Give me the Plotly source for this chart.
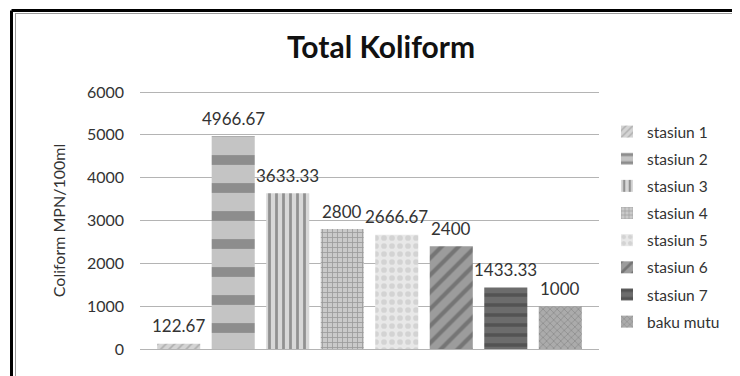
import plotly.graph_objects as go

series_names = ["stasiun 1", "stasiun 2", "stasiun 3", "stasiun 4",
                "stasiun 5", "stasiun 6", "stasiun 7", "baku mutu"]
values = [122.67, 4966.67, 3633.33, 2800, 2666.67, 2400, 1433.33, 1000]
value_labels = ["122.67", "4966.67", "3633.33", "2800", "2666.67", "2400", "1433.33", "1000"]
y_ticks = [0, 1000, 2000, 3000, 4000, 5000, 6000]

styles = [
    dict(color="#d4d4d4", shape="/", fg="#8a8a8a", size=6, sol=0.3),
    dict(color="#c4c4c4", shape="-", fg="#555555", size=28, sol=0.35),
    dict(color="#d8d8d8", shape="|", fg="#4a4a4a", size=7, sol=0.4),
    dict(color="#cacaca", shape="+", fg="#6a6a6a", size=5, sol=0.3),
    dict(color="#e8e8e8", shape=".", fg="#bdbdbd", size=8, sol=0.4),
    dict(color="#9c9c9c", shape="/", fg="#4d4d4d", size=12, sol=0.35),
    dict(color="#6c6c6c", shape="-", fg="#3a3a3a", size=10, sol=0.35),
    dict(color="#ababab", shape="x", fg="#727272", size=5, sol=0.3),
]

FONT = "Lato"
OFF = 8  # page body margin offset
W, H = 740, 376
# targets in page pixels -> figure pixels
PL, PR, PT, PB = 140, 599, 90, 351
Y0_PX, Y6000_PX = 349, 92
upx = (Y0_PX - Y6000_PX) / 6000.0
y_lo = -(PB - Y0_PX) / upx
y_hi = 6000 + (Y6000_PX - PT) / upx

L = PL - OFF
T = PT - OFF
R = W - (PR - OFF)
B = H - (PB - OFF)
pw, ph = W - L - R, H - T - B


def px_x(p):
    return (p - OFF - L) / pw


def px_y(p):
    return (H - B - (p - OFF)) / ph


fig = go.Figure()
for i, (name, v, st) in enumerate(zip(series_names, values, styles)):
    fig.add_trace(go.Bar(
        x=[i], y=[v], name=name, width=0.79,
        legendgroup=name,
        marker=dict(color=st["color"], line=dict(width=0),
                    pattern=dict(shape=st["shape"], fgcolor=st["fg"],
                                 size=st["size"], solidity=st["sol"])),
    ))
    fig.add_annotation(x=i, y=v, text=value_labels[i], showarrow=False,
                       yanchor="middle", yshift=18,
                       font=dict(family=FONT, size=17, color="#333333"))

fig.update_layout(
    width=W, height=H,
    margin=dict(l=L, r=R, t=T, b=B),
    paper_bgcolor="white", plot_bgcolor="white",
    barmode="overlay",
    title=dict(text="<b>Total Koliform</b>", x=(381 - OFF) / W, xref="container", xanchor="center",
               y=1 - (47 - OFF) / H, yref="container", yanchor="middle",
               font=dict(family=FONT, size=30, color="#111111")),
    xaxis=dict(range=[-0.71, 7.71], showticklabels=False, showgrid=False,
               zeroline=False, showline=False, ticks=""),
    yaxis=dict(range=[y_lo, y_hi], tickvals=y_ticks, showgrid=True, gridcolor="#b4b4b4",
               gridwidth=1, zeroline=False, showline=False, ticks="",
               ticklabelstandoff=15,
               tickfont=dict(family=FONT, size=16, color="#333333"),
               title=dict(text="Coliform MPN/100ml", standoff=17,
                          font=dict(family=FONT, size=16, color="#333333"))),
    legend=dict(x=px_x(607), y=px_y(115), xanchor="left", yanchor="top",
                font=dict(family=FONT, size=15.5, color="#333333"),
                traceorder="grouped", tracegroupgap=4, itemwidth=30,
                bgcolor="rgba(0,0,0,0)"),
    showlegend=True,
)

# outer frame (top and left edges visible)
fig.add_shape(type="line", xref="paper", yref="paper",
              x0=px_x(11.5), x1=px_x(760), y0=px_y(10.5), y1=px_y(10.5),
              line=dict(color="black", width=3))
fig.add_shape(type="line", xref="paper", yref="paper",
              x0=px_x(11.5), x1=px_x(11.5), y0=px_y(400), y1=px_y(10.5),
              line=dict(color="black", width=3))
fig.add_shape(type="line", xref="paper", yref="paper",
              x0=px_x(15.5), x1=px_x(15.5), y0=px_y(400), y1=px_y(13),
              line=dict(color="#9a9a9a", width=1))
fig.add_shape(type="line", xref="paper", yref="paper",
              x0=px_x(15.5), x1=px_x(760), y0=px_y(13.5), y1=px_y(13.5),
              line=dict(color="#9a9a9a", width=1))

fig.write_html("out.html")
